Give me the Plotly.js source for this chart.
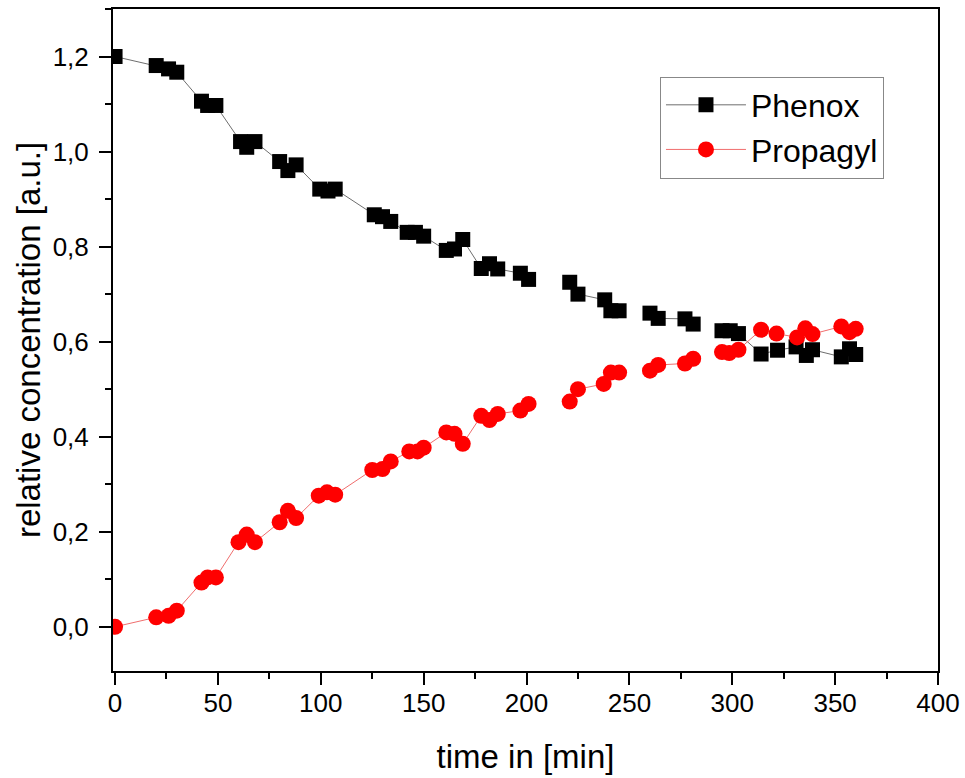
<!DOCTYPE html>
<html>
<head>
<meta charset="utf-8">
<script src="https://cdn.plot.ly/plotly-3.0.1.min.js"></script>
<style>
  html, body { margin: 0; padding: 0; background: #fff; }
  #chart { width: 965px; height: 778px; }
</style>
</head>
<body>
<div id="chart"></div>
<script>
// time in [min]; null marks a break in the connecting line
const phenoxTime = [0, 20, 26, 30, 42, 45, 49, 61, 64, 68, 80, 84, 88, 99.5, 103.5, 107,
  126, 130, 134, 142, 146, 150, 161, 165, 169, 178, 182, 186, 197, 201, null,
  221, 225, 238, 241, 245, null, 260, 264, 277, 281, null, 295, 299, 303,
  314, 322, 331, 336, 339, 353, 357, 360];
const phenoxValue = [1.200, 1.181, 1.174, 1.167, 1.106, 1.097, 1.097, 1.021, 1.009, 1.021,
  0.979, 0.960, 0.972, 0.921, 0.917, 0.921, 0.867, 0.863, 0.853, 0.830, 0.830, 0.822,
  0.792, 0.795, 0.815, 0.754, 0.764, 0.753, 0.744, 0.731, null,
  0.725, 0.700, 0.688, 0.665, 0.665, null, 0.660, 0.649, 0.648, 0.637, null,
  0.623, 0.623, 0.617, 0.574, 0.582, 0.589, 0.571, 0.583, 0.568, 0.585, 0.573];

const propagylTime = [0, 20, 26, 30, 42, 45, 49, 60, 64, 68, 80, 84, 88, 99, 103, 107,
  125, 130, 134, 143, 147, 150, 161, 165, 169, 178, 182, 186, 197, 201, null,
  221, 225, 237.5, 241, 245, null, 260, 264, 277, 281, null, 295, 298.5, 303,
  314, 321.5, 331.5, 335.5, 339, 353, 357, 360];
const propagylValue = [0.000, 0.020, 0.023, 0.034, 0.093, 0.104, 0.104, 0.178, 0.194, 0.178,
  0.220, 0.244, 0.229, 0.276, 0.283, 0.278, 0.330, 0.332, 0.348, 0.369, 0.369, 0.377,
  0.409, 0.406, 0.385, 0.444, 0.435, 0.448, 0.455, 0.469, null,
  0.474, 0.500, 0.511, 0.535, 0.535, null, 0.539, 0.551, 0.554, 0.564, null,
  0.578, 0.576, 0.583, 0.625, 0.617, 0.609, 0.628, 0.616, 0.632, 0.620, 0.627];

const xTicks = [0, 50, 100, 150, 200, 250, 300, 350, 400];
const yTicks = [0.0, 0.2, 0.4, 0.6, 0.8, 1.0, 1.2];

const FONT = '"Liberation Sans", Arial, sans-serif';

const traces = [
  {
    name: 'Phenox', x: phenoxTime, y: phenoxValue, type: 'scatter', mode: 'lines+markers',
    line: { color: 'rgb(110,110,110)', width: 1 },
    marker: { symbol: 'square', size: 15, color: '#000' },
    connectgaps: false
  },
  {
    name: 'Propagyl', x: propagylTime, y: propagylValue, type: 'scatter', mode: 'lines+markers',
    line: { color: 'rgb(240,110,110)', width: 1 },
    marker: { symbol: 'circle', size: 16, color: '#ff0000' },
    connectgaps: false
  }
];

const axisCommon = {
  showgrid: false, zeroline: false, showline: true, linecolor: '#000', linewidth: 2,
  mirror: true, ticks: 'outside', ticklen: 12, tickwidth: 2, tickcolor: '#000',
  tickfont: { family: FONT, size: 26, color: '#000' }
};

const layout = {
  width: 965, height: 778,
  margin: { l: 113, r: 27, t: 9, b: 107 },
  paper_bgcolor: '#fff', plot_bgcolor: '#fff',
  separators: ', ',
  font: { family: FONT, color: '#000' },
  showlegend: true,
  legend: {
    x: 0.663, y: 0.898, xanchor: 'left', yanchor: 'top',
    bgcolor: '#fff', bordercolor: '#888', borderwidth: 1,
    font: { family: FONT, size: 32, color: '#000' },
    itemwidth: 80, tracegroupgap: 0
  },
  xaxis: Object.assign({}, axisCommon, {
    range: [-1, 400], tickvals: xTicks, ticktext: xTicks.map(String),
    ticklabelstandoff: -4,
    minor: { dtick: 25, ticks: 'outside', ticklen: 6, tickwidth: 2, tickcolor: '#000' },
    title: { text: 'time in [min]', font: { family: FONT, size: 33, color: '#000' }, standoff: 28 }
  }),
  yaxis: Object.assign({}, axisCommon, {
    range: [-0.093, 1.3], tickvals: yTicks, ticktext: yTicks.map(v => v.toFixed(1).replace('.', ',')),
    ticklabelstandoff: 5,
    minor: { dtick: 0.1, tick0: 0, ticks: 'outside', ticklen: 6, tickwidth: 2, tickcolor: '#000' },
    title: { text: 'relative concentration [a.u.]', font: { family: FONT, size: 33, color: '#000' }, standoff: 2 }
  })
};

Plotly.newPlot('chart', traces, layout, { displayModeBar: false, staticPlot: true });
</script>
</body>
</html>
